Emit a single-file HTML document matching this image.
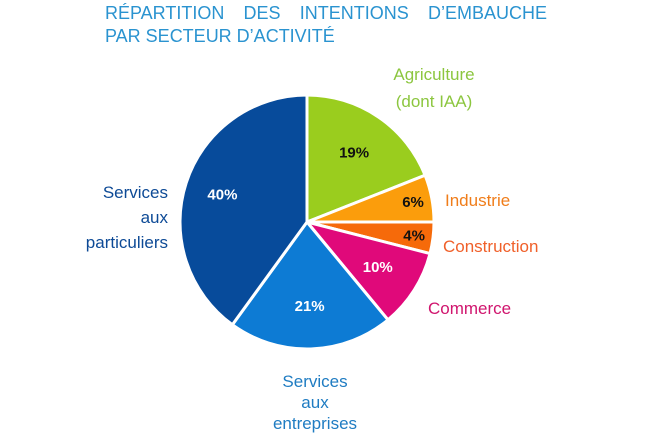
<!DOCTYPE html>
<html><head><meta charset="utf-8"><style>
body{margin:0;width:650px;height:434px;background:#fff;overflow:hidden;font-family:"Liberation Sans",sans-serif}
.t{position:absolute;left:105px;width:442px;color:#2a93d0;font-size:18px;white-space:nowrap}
</style></head><body>
<div class="t" style="top:3px;display:flex;justify-content:space-between"><span>RÉPARTITION</span><span>DES</span><span>INTENTIONS</span><span>D’EMBAUCHE</span></div>
<div class="t" style="top:26px">PAR SECTEUR D’ACTIVITÉ</div>
<svg id="c" width="650" height="434" style="position:absolute;left:0;top:0"></svg>
<script>
const categories=["Agriculture","Industrie","Construction","Commerce","Services aux entreprises","Services aux particuliers"];
const values=[19,6,4,10,21,40];
const colors=["#9acd1e","#fb9d0c","#f66a0a","#e0097a","#0d7bd4","#074b9b"];
const valueColors=["#111","#111","#111","#fff","#fff","#fff"];
const labelColors=["#8cc63f","#f07d1a","#f0602a","#d0156e","#1f7cc2","#0d4a96"];
const labelLines=[["Agriculture","(dont IAA)"],["Industrie"],["Construction"],["Commerce"],["Services","aux","entreprises"],["Services","aux","particuliers"]];
const cx=307,cy=222,r=127;
const svg=document.getElementById('c');const NS="http://www.w3.org/2000/svg";
const total=values.reduce((a,b)=>a+b,0);
function pt(a,rr){return[cx+rr*Math.sin(a),cy-rr*Math.cos(a)];}
let acc=0;
values.forEach((v,i)=>{
 const a0=acc/total*2*Math.PI;acc+=v;const a1=acc/total*2*Math.PI;
 const p0=pt(a0,r),p1=pt(a1,r);
 const p=document.createElementNS(NS,'path');
 p.setAttribute('d',`M${cx},${cy}L${p0[0]},${p0[1]}A${r},${r} 0 ${a1-a0>Math.PI?1:0} 1 ${p1[0]},${p1[1]}Z`);
 p.setAttribute('fill',colors[i]);p.setAttribute('stroke','#fff');p.setAttribute('stroke-width','3');
 
 
 svg.appendChild(p);
 const am=(a0+a1)/2;const rl=v<8?r*0.85:(v>30?r*0.7:r*0.66);const q=pt(am,rl);
 const t=document.createElementNS(NS,'text');
 t.setAttribute('x',q[0]);t.setAttribute('y',q[1]+5);t.setAttribute('text-anchor','middle');
 t.setAttribute('font-size','15');t.setAttribute('font-weight','bold');t.setAttribute('fill',valueColors[i]);
 t.setAttribute('font-family','Liberation Sans, sans-serif');t.textContent=v+'%';
 
 
 svg.appendChild(t);
});
const lpos=[[434,80,'middle',27],[445,206,'start',0],[443,252,'start',0],[428,314,'start',0],[315,387,'middle',21],[168,198,'end',25]];
labelLines.forEach((ls,i)=>{
 const t=document.createElementNS(NS,'text');
 t.setAttribute('text-anchor',lpos[i][2]);t.setAttribute('font-size','17');t.setAttribute('fill',labelColors[i]);
 t.setAttribute('font-family','Liberation Sans, sans-serif');
 
 
 ls.forEach((s,j)=>{const sp=document.createElementNS(NS,'tspan');sp.setAttribute('x',lpos[i][0]);sp.setAttribute('y',lpos[i][1]+j*lpos[i][3]);sp.textContent=s;t.appendChild(sp);});
 svg.appendChild(t);
});
</script>
</body></html>
